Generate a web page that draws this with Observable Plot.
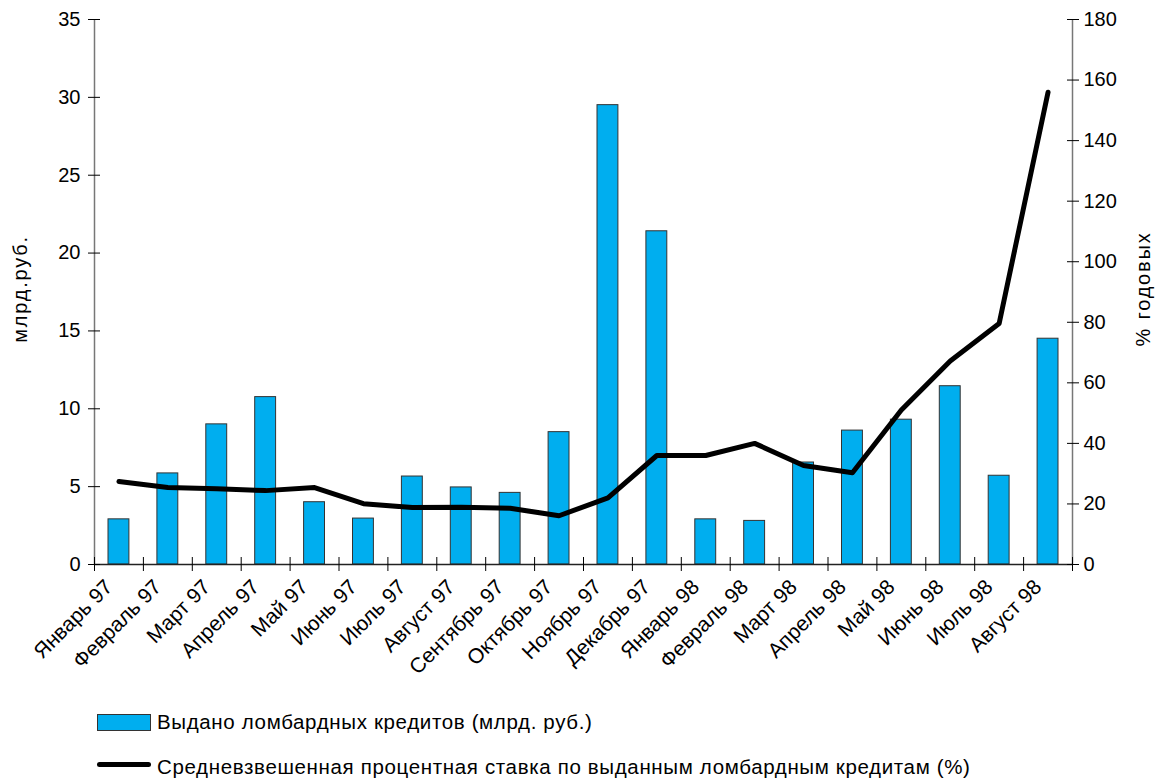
<!DOCTYPE html>
<html><head><meta charset="utf-8">
<script src="https://cdn.jsdelivr.net/npm/d3@7"></script>
<script src="https://cdn.jsdelivr.net/npm/@observablehq/plot@0.6"></script>
<style>
body{margin:0;background:#fff;font-family:"Liberation Sans",Arial,sans-serif;color:#000}
#legend{position:relative;width:1156px;height:84px}
#legend .t{position:absolute;font-size:20.5px;line-height:22px;letter-spacing:0.65px;white-space:nowrap}
g[aria-label="text"] text{letter-spacing:1.8px}
</style>
</head><body>
<div id="chart"></div>
<div id="legend">
  <div style="position:absolute;left:97px;top:14px;width:52px;height:15px;background:#00AEEF;border:1px solid #333"></div>
  <div class="t" style="left:157px;top:11px">Выдано ломбардных кредитов (млрд. руб.)</div>
  <div style="position:absolute;left:97px;top:62px;width:54px;height:5px;background:#000;border-radius:3px"></div>
  <div class="t" style="left:157px;top:56px">Средневзвешенная процентная ставка по выданным ломбардным кредитам (%)</div>
</div>
<script>
const months = ["Январь 97","Февраль 97","Март 97","Апрель 97","Май 97","Июнь 97","Июль 97","Август 97","Сентябрь 97","Октябрь 97","Ноябрь 97","Декабрь 97","Январь 98","Февраль 98","Март 98","Апрель 98","Май 98","Июнь 98","Июль 98","Август 98"];
const credits = [2.9,5.85,9.0,10.75,4.0,2.95,5.65,4.95,4.6,8.5,29.5,21.4,2.9,2.8,6.55,8.6,9.3,11.45,5.7,14.5];
const rates = [27.4,25.4,25.0,24.4,25.4,20.1,18.8,18.9,18.6,16.1,22.0,36.0,36.0,40.0,32.7,30.3,51.0,67.2,79.6,156.0];
const leftTicks = [0,5,10,15,20,25,30,35];
const rightTicks = [0,20,40,60,80,100,120,140,160,180];
const leftLabel = "млрд.руб.";
const rightLabel = "% годовых";

const k = 35/180; // right axis (0–180) mapped onto left axis (0–35)
const data = months.map((m,i)=>({i, m, credit: credits[i], rate: rates[i]*k}));
const catTicks = d3.range(months.length + 1);
const labelTicks = d3.range(months.length).map(i=>i+0.5);
const font = "'Liberation Sans', Arial, sans-serif";

const plot = Plot.plot({
  width:1156, height:700,
  marginLeft:94, marginRight:84, marginTop:19, marginBottom:136,
  x:{domain:[0, months.length], label:null},
  y:{domain:[0,35], label:null},
  style:{fontFamily:font, fontSize:"20px", color:"#000", background:"#fff", overflow:"visible"},
  marks:[
    Plot.rect(data,{x1:"i", x2:d=>d.i+1, y1:0, y2:"credit", insetLeft:14, insetRight:14, fill:"#00AEEF", stroke:"#333", strokeWidth:1}),
    Plot.ruleX([0, months.length],{stroke:"#777", strokeWidth:1.5}),
    Plot.ruleY([0],{stroke:"#222", strokeWidth:1.5}),
    Plot.axisX({ticks:catTicks, tickSize:7, tickFormat:()=>"", label:null, stroke:"#000"}),
    Plot.axisX({ticks:catTicks, tickSize:7, dy:-7, tickFormat:()=>"", label:null, stroke:"#000"}),
    Plot.axisX({ticks:labelTicks, tickSize:0, tickPadding:10, tickRotate:-45, dx:-10, dy:9, tickFormat:d=>months[Math.floor(d)], label:null, fontSize:21}),
    Plot.axisY({anchor:"left", ticks:leftTicks, tickSize:6, tickPadding:8, label:null, fontSize:20}),
    Plot.axisY({anchor:"left", ticks:leftTicks, tickSize:6, dx:6, tickFormat:()=>"", label:null}),
    Plot.axisY({anchor:"right", ticks:rightTicks.map(t=>t*k), tickSize:6, tickPadding:5, tickFormat:d=>String(Math.round(d/k)), label:null, fontSize:20}),
    Plot.axisY({anchor:"right", ticks:rightTicks.map(t=>t*k), tickSize:6, dx:-6, tickFormat:()=>"", label:null}),
    Plot.line(data,{x:d=>d.i+0.5, y:"rate", stroke:"#000", strokeWidth:5, strokeLinejoin:"round"}),
    Plot.text([leftLabel],{frameAnchor:"left", dx:-74, dy:-3, rotate:-90, textAnchor:"middle", fontSize:20, fill:"#000"}),
    Plot.text([rightLabel],{frameAnchor:"right", dx:71, dy:-3, rotate:-90, textAnchor:"middle", fontSize:20, fill:"#000"})
  ]
});
document.getElementById("chart").appendChild(plot);
</script>
</body></html>
